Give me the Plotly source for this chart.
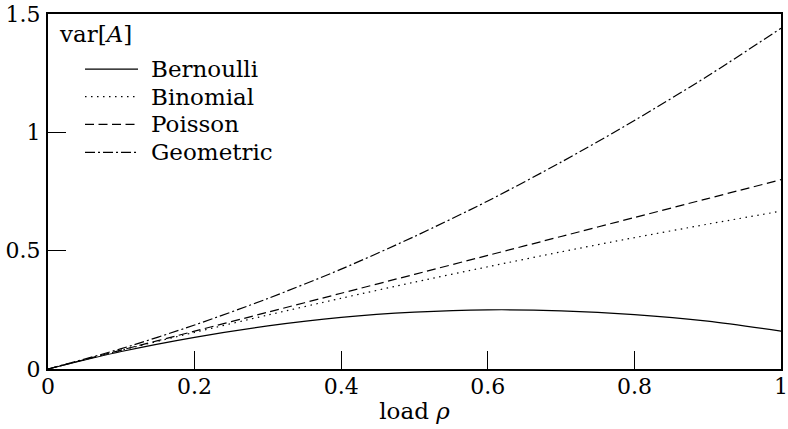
import plotly.graph_objects as go

# Variance of the number of arrivals A per slot versus load rho
rho = [0.0, 0.1, 0.2, 0.3, 0.4, 0.5, 0.6, 0.7, 0.8, 0.9, 1.0]
bernoulli = [0.0, 0.074, 0.134, 0.182, 0.218, 0.240, 0.250, 0.246, 0.230, 0.202, 0.160]
binomial = [0.0, 0.079, 0.155, 0.228, 0.299, 0.367, 0.432, 0.495, 0.555, 0.612, 0.667]
poisson = [0.0, 0.080, 0.160, 0.240, 0.320, 0.400, 0.480, 0.560, 0.640, 0.720, 0.800]
geometric = [0.0, 0.086, 0.186, 0.298, 0.422, 0.560, 0.710, 0.874, 1.050, 1.238, 1.440]

series_names = ["Bernoulli", "Binomial", "Poisson", "Geometric"]
series_values = [bernoulli, binomial, poisson, geometric]
dashes = ["solid", "1.5px,4.5px", "9px,4.5px", "10px,3px,2px,3px"]

x_ticks = [0, 0.2, 0.4, 0.6, 0.8, 1.0]
x_tick_text = ["0", "0.2", "0.4", "0.6", "0.8", "1"]
y_ticks = [0, 0.5, 1.0, 1.5]
y_tick_text = ["0", "0.5", "1", "1.5"]

FONT = "DejaVu Serif"
TEXT_SIZE = 23
TICK_SIZE = 22

fig = go.Figure()
for name, vals, dash in zip(series_names, series_values, dashes):
    fig.add_trace(go.Scatter(
        x=rho, y=vals, mode="lines", name=name,
        line=dict(color="black", width=1.2, dash=dash, shape="spline", smoothing=0.8),
        showlegend=False,
    ))

# Hand-placed legend: line sample plus label for each series
row_y = [0.845, 0.767, 0.689, 0.610]
for name, dash, yy in zip(series_names, dashes, row_y):
    fig.add_shape(type="line", xref="paper", yref="paper",
                  x0=0.0505, x1=0.1228, y0=yy, y1=yy,
                  line=dict(color="black", width=1.2, dash=dash))
    fig.add_annotation(xref="paper", yref="paper", x=0.1378, y=yy,
                       text=name, showarrow=False, xanchor="left", yanchor="middle",
                       font=dict(family=FONT, size=TEXT_SIZE, color="black"))

fig.add_annotation(xref="paper", yref="paper", x=0.012, y=0.945,
                   text="var[<i>A</i>]", showarrow=False, xanchor="left", yanchor="middle",
                   font=dict(family=FONT, size=TEXT_SIZE, color="black"))

fig.update_layout(
    width=788, height=429,
    margin=dict(l=48, r=7, t=14, b=60, autoexpand=False),
    paper_bgcolor="white", plot_bgcolor="white",
    font=dict(family=FONT, size=TICK_SIZE, color="black"),
    xaxis=dict(
        range=[0, 1], tickvals=x_ticks, ticktext=x_tick_text,
        ticks="inside", ticklen=18, tickwidth=1.2, tickcolor="black",
        showline=True, linewidth=2.2, linecolor="black", mirror=True,
        showgrid=False, zeroline=False, ticklabelstandoff=-4, automargin=False,
        title=dict(text="load <i>ρ</i>", font=dict(family=FONT, size=TEXT_SIZE), standoff=5),
    ),
    yaxis=dict(
        range=[0, 1.5], tickvals=y_ticks, ticktext=y_tick_text,
        ticks="inside", ticklen=18, tickwidth=1.2, tickcolor="black",
        showline=True, linewidth=2.2, linecolor="black", mirror=True,
        showgrid=False, zeroline=False, ticklabelstandoff=1, automargin=False,
    ),
)

fig.write_html("out.html")
